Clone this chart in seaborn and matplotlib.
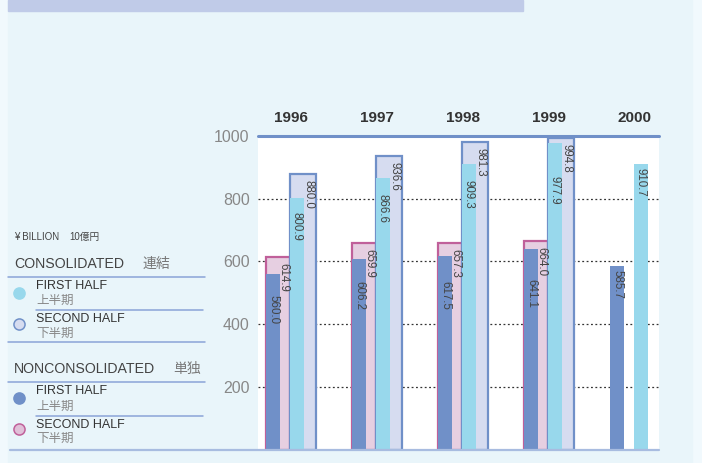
import numpy as np
import pandas as pd
import seaborn as sns
import matplotlib.pyplot as plt
from matplotlib.lines import Line2D
from matplotlib.patches import Rectangle

# values in ¥ billion
years = ['1996', '1997', '1998', '1999', '2000']
cons_first = [800.9, 866.6, 909.3, 977.9, 910.7]
cons_second = [880.0, 936.6, 981.3, 994.8, np.nan]
noncons_first = [560.0, 606.2, 617.5, 641.1, 585.7]
noncons_second = [614.9, 659.9, 657.3, 664.0, np.nan]
yticks = [200, 400, 600, 800, 1000]

sns.set_style('white')
plt.rcParams['font.family'] = ['Liberation Sans', 'Noto Sans CJK JP', 'DejaVu Sans']

W, H = 702, 463
fig = plt.figure(figsize=(W / 100, H / 100), dpi=100)
fig.patch.set_facecolor('#f1f9fd')


def fx(x):
    return x / W


def fy(y):
    return 1 - y / H


# background panel and the cut-off header band
fig.add_artist(Rectangle((fx(8), 0), fx(692) - fx(8), 1, transform=fig.transFigure,
                         color='#e9f5fa', zorder=0))
fig.add_artist(Rectangle((fx(8), fy(11)), fx(523) - fx(8), 11 / H, transform=fig.transFigure,
                         color='#c0cbe8', zorder=1))

ax = fig.add_axes([fx(258), fy(449.5), (659 - 258) / W, 313.5 / H])
ax.set_facecolor('white')

BLUE = '#7090c8'
CYAN = '#98d8ec'
LAV = '#d6dcf0'
PINK = '#e6cfe1'
PINK_EDGE = '#c0609a'

unit = 86.0  # pixels between year groups
pos = np.arange(len(years))

df = pd.DataFrame({'pos': pos, 'cf': cons_first, 'cs': cons_second,
                   'nf': noncons_first, 'ns': noncons_second})

series = [  # column, center offset px, width px, face, edge
    ('ns', 12, 24, PINK, PINK_EDGE),
    ('nf', 7, 14, BLUE, BLUE),
    ('cs', 37, 26, LAV, BLUE),
    ('cf', 31, 14, CYAN, CYAN),
]
for col, off, wid, face, edge in series:
    d = df.dropna(subset=[col]).copy()
    d['x'] = d['pos'] + off / unit
    lw = 1.6 if col in ('ns', 'cs') else 0
    sns.barplot(data=d, x='x', y=col, native_scale=True, width=wid / unit,
                color=face, edgecolor=edge, linewidth=lw, saturation=1,
                errorbar=None, ax=ax, zorder=3)

# dotted grid and top/bottom rules
for t in yticks[:-1]:
    ax.axhline(t, color='#333333', lw=0.9, ls=(0, (1.5, 2)), zorder=1)
ax.axhline(1000, color=BLUE, lw=2.2, zorder=5, clip_on=False)
fig.add_artist(Line2D([fx(10), fx(659)], [fy(449.5), fy(449.5)], transform=fig.transFigure,
                      color='#a8bce0', lw=1.6, zorder=6))

ax.set_xlim(-8 / unit, (659 - 266) / unit)
ax.set_ylim(0, 1000)
ax.set_yticks(yticks)
ax.set_yticklabels([str(t) for t in yticks], color='#888888', fontsize=11.5)
ax.tick_params(axis='y', length=0, pad=6)
ax.set_xticks([])
ax.set_xlabel('')
ax.set_ylabel('')
for s in ax.spines.values():
    s.set_visible(False)

# year labels
for i, yr in enumerate(years):
    ax.annotate(yr, xy=(i + 25 / unit, 1000), xytext=(0, 17.5), textcoords='offset pixels',
                ha='center', va='center', fontsize=11, fontweight='bold',
                color='#333333', annotation_clip=False)

# value labels (rotated, reading downward)
lab = dict(rotation=-90, ha='center', va='top', fontsize=8.3, color='#444444',
           textcoords='offset pixels', zorder=7)
for i in range(len(years)):
    for first, second, xo1, xo2 in [(noncons_first, noncons_second, 7, 17),
                                    (cons_first, cons_second, 31, 42)]:
        v1, v2 = first[i], second[i]
        if not np.isnan(v2):
            ax.annotate(f'{v2:.1f}', xy=(i + xo2 / unit, v2), xytext=(0, -6), **lab)
            ax.annotate(f'{v1:.1f}', xy=(i + xo1 / unit, v2), xytext=(0, -38), **lab)
        else:
            ax.annotate(f'{v1:.1f}', xy=(i + xo1 / unit, v1), xytext=(0, -4), **lab)

# legend on the left
def ftext(x, y, s, **kw):
    fig.text(fx(x), fy(y), s, va='center', ha='left', **kw)


def fline(x0, x1, y, color='#8aa4d8', lw=1.1):
    fig.add_artist(Line2D([fx(x0), fx(x1)], [fy(y), fy(y)], transform=fig.transFigure,
                          color=color, lw=lw))


def fdot(y, face, edge):
    fig.add_artist(Line2D([fx(19)], [fy(y)], transform=fig.transFigure, marker='o',
                          markersize=8, markerfacecolor=face, markeredgecolor=edge,
                          markeredgewidth=1.1, ls='none'))


ftext(14, 237, '¥ BILLION', fontsize=7, color='#444444')
ftext(69, 237, '10億円', fontsize=7, color='#444444')

ftext(14, 264, 'CONSOLIDATED', fontsize=10.2, color='#444444')
ftext(143, 264, '連結', fontsize=10, color='#777777')
fline(8, 205, 276.5)
fdot(293, CYAN, CYAN)
ftext(36, 286, 'FIRST HALF', fontsize=9, color='#333333')
ftext(36, 300.5, '上半期', fontsize=9, color='#888888')
fline(36, 203, 309.5)
fdot(324, LAV, BLUE)
ftext(36, 319, 'SECOND HALF', fontsize=9, color='#333333')
ftext(36, 333.5, '下半期', fontsize=9, color='#888888')
fline(8, 205, 342)

ftext(14, 369, 'NONCONSOLIDATED', fontsize=10.2, color='#444444')
ftext(173, 369, '単独', fontsize=10, color='#777777')
fline(8, 205, 382)
fdot(398, BLUE, BLUE)
ftext(36, 391.5, 'FIRST HALF', fontsize=9, color='#333333')
ftext(36, 406.5, '上半期', fontsize=9, color='#888888')
fline(36, 203, 415.5)
fdot(429, '#e0c0d8', PINK_EDGE)
ftext(36, 425.5, 'SECOND HALF', fontsize=9, color='#333333')
ftext(36, 439, '下半期', fontsize=9, color='#888888')

fig.savefig('out.png', dpi=100, facecolor=fig.get_facecolor())
